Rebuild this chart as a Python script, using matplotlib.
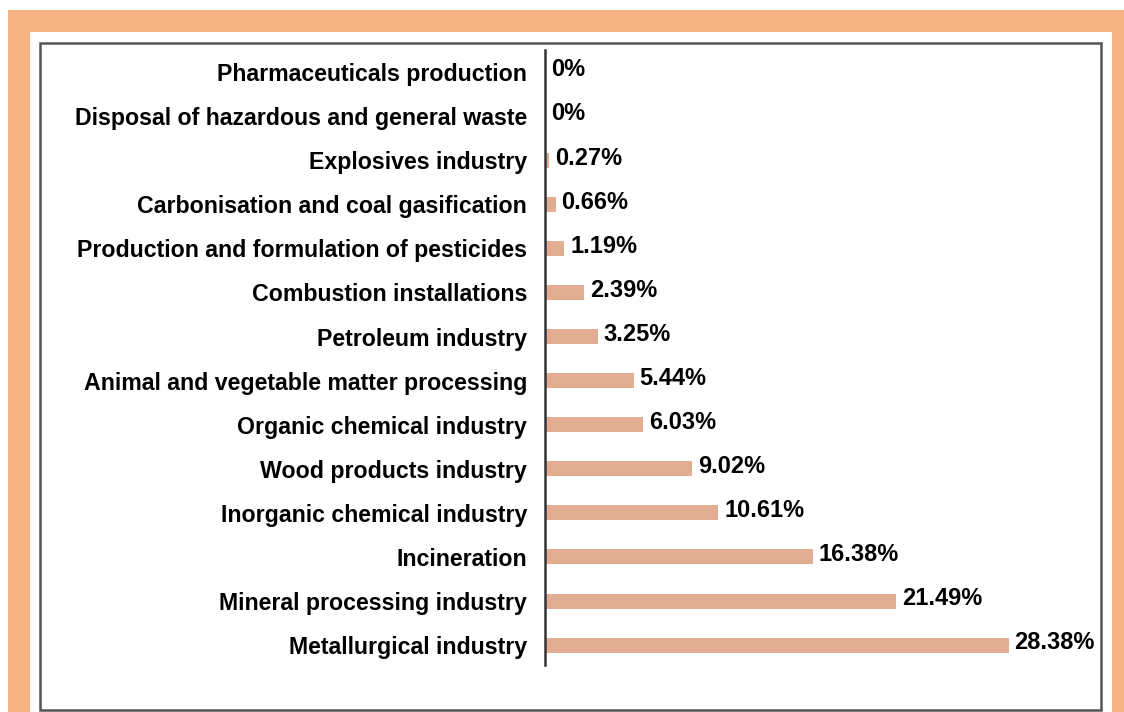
import matplotlib.pyplot as plt
from matplotlib.patches import Rectangle

plt.rcParams['font.family'] = ['Liberation Sans', 'DejaVu Sans']

# categories from bottom to top
categories = [
    'Metallurgical industry',
    'Mineral processing industry',
    'Incineration',
    'Inorganic chemical industry',
    'Wood products industry',
    'Organic chemical industry',
    'Animal and vegetable matter processing',
    'Petroleum industry',
    'Combustion installations',
    'Production and formulation of pesticides',
    'Carbonisation and coal gasification',
    'Explosives industry',
    'Disposal of hazardous and general waste',
    'Pharmaceuticals production',
]
values = [28.38, 21.49, 16.38, 10.61, 9.02, 6.03, 5.44, 3.25, 2.39, 1.19, 0.66, 0.27, 0, 0]
value_labels = ['28.38%', '21.49%', '16.38%', '10.61%', '9.02%', '6.03%', '5.44%',
                '3.25%', '2.39%', '1.19%', '0.66%', '0.27%', '0%', '0%']

W, H = 1124, 712
fig = plt.figure(figsize=(W / 100, H / 100), dpi=100)
fig.patch.set_facecolor('white')

# frame decoration (pixel coords converted to figure fractions)
def px_rect(x0, y0, x1, y1, **kw):
    return Rectangle((x0 / W, 1 - y1 / H), (x1 - x0) / W, (y1 - y0) / H,
                     transform=fig.transFigure, **kw)

fig.patches.append(px_rect(8, 10, W, H, facecolor='#F8B384', edgecolor='none', zorder=0))
fig.patches.append(px_rect(30, 32, 1112, H, facecolor='white', edgecolor='none', zorder=1))
fig.patches.append(px_rect(40, 43, 1101, 710, facecolor='white', edgecolor='#555555',
                           linewidth=1.8, zorder=2))

ax = fig.add_axes([545 / W, 1 - 665 / H, 490 / W, 615 / H])
ax.set_zorder(3)
ax.patch.set_alpha(0)

y = list(range(len(categories)))
ax.barh(y, values, height=0.34, color='#E2AE93')
for yi, v, lab in zip(y, values, value_labels):
    ax.text(v + 0.35, yi + 0.05, lab, va='center', ha='left',
            fontsize=17, fontweight='bold', color='black')

ax.set_xlim(0, 30)
ax.set_ylim(-0.45, 13.5)
ax.set_yticks(y)
ax.set_yticklabels(categories, fontsize=16.7, fontweight='bold')
ax.tick_params(axis='y', length=0, pad=13)
ax.set_xticks([])
for s in ['top', 'right', 'bottom']:
    ax.spines[s].set_visible(False)
ax.spines['left'].set_linewidth(1.8)
ax.spines['left'].set_color('#333333')

fig.savefig('out.png', dpi=100)
